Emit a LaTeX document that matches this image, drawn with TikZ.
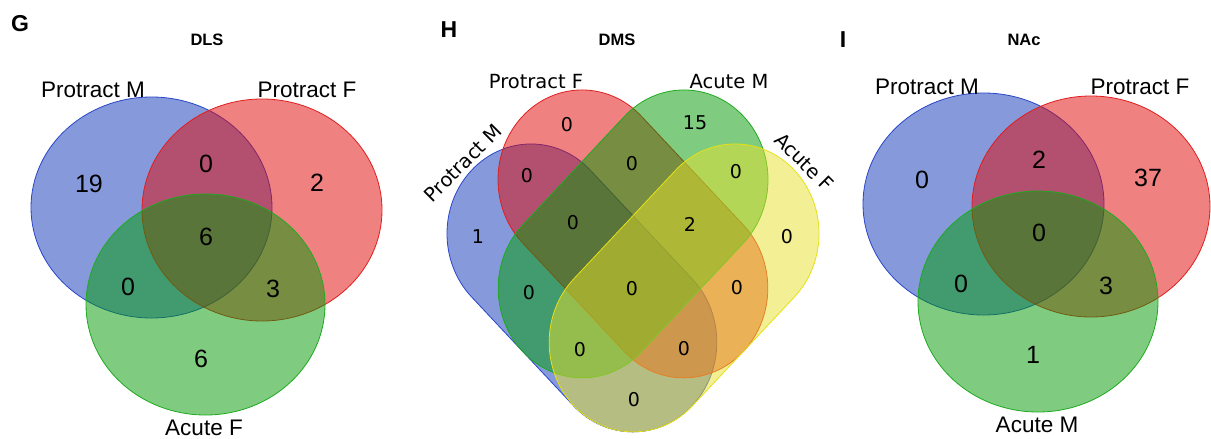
\documentclass[tikz,border=0pt]{standalone}
\usepackage{fontspec}
\setmainfont{Liberation Sans}
\newfontfamily\dejavu{DejaVu Sans}
\definecolor{vblue}{RGB}{15,55,185}
\definecolor{vred}{RGB}{225,5,5}
\definecolor{vgreen}{RGB}{0,155,5}
\definecolor{vyellow}{RGB}{231,225,45}
\definecolor{eblue}{RGB}{40,70,200}
\definecolor{ered}{RGB}{225,30,30}
\definecolor{egreen}{RGB}{30,170,30}
\definecolor{eyellow}{RGB}{230,225,20}
\begin{document}
\begin{tikzpicture}[x=1pt,y=-1pt,
  lab/.style={font=\fontsize{22.5}{27}\selectfont, inner sep=0pt},
  num/.style={font=\fontsize{25}{30}\selectfont, inner sep=0pt},
  hlab/.style={font=\dejavu\fontsize{19.5}{24}\selectfont, inner sep=0pt},
  hnum/.style={font=\dejavu\fontsize{19}{22}\selectfont, inner sep=0pt},
  ttl/.style={font=\bfseries\fontsize{16.5}{19}\selectfont, inner sep=0pt},
  pnl/.style={font=\bfseries\fontsize{23}{26}\selectfont, inner sep=0pt},
  sblue/.style={fill=vblue, fill opacity=0.5, draw=eblue, line width=0.8pt},
  sred/.style={fill=vred, fill opacity=0.5, draw=ered, line width=0.8pt},
  sgreen/.style={fill=vgreen, fill opacity=0.5, draw=egreen, line width=0.8pt},
  syellow/.style={fill=vyellow, fill opacity=0.5, draw=eyellow, line width=0.8pt},
]
\useasboundingbox (0,0) rectangle (1211,439);
\fill[white] (0,0) rectangle (1211,439);

% ---------------- Panel G ----------------
\node[pnl] (pG) at (20,24) {G};
\node[ttl] (tG) at (207,40) {DLS};
\path[sblue] (151.5,207.5) ellipse [x radius=120.5, y radius=110.5];
\path[sred] (262,210) ellipse [x radius=120, y radius=111];
\path[sgreen] (205.5,304.5) ellipse [x radius=119.5, y radius=110.5];
\node[lab] (gl1) at (93,90) {Protract M};
\node[lab] (gl2) at (307,90) {Protract F};
\node[lab] (gl3) at (204,428) {Acute F};
\node[num] (g1) at (89,184) {19};
\node[num] (g2) at (206,164) {0};
\node[num] (g3) at (317,183) {2};
\node[num] (g4) at (206,237) {6};
\node[num] (g5) at (128,287) {0};
\node[num] (g6) at (273,289) {3};
\node[num] (g7) at (201,359) {6};

% ---------------- Panel H ----------------
\node[pnl] (pH) at (449,30) {H};
\node[ttl] (tH) at (617,40) {DMS};
\begin{scope}[shift={(531,233.6)}, yscale=1.067, rotate=-45]
\path[sblue] (0,-84) -- (144,-84) arc[start angle=-90,end angle=90,radius=84] -- (0,84) arc[start angle=90,end angle=270,radius=84] -- cycle;
\end{scope}
\begin{scope}[shift={(582,179.6)}, yscale=1.067, rotate=-45]
\path[sred] (0,-84) -- (144,-84) arc[start angle=-90,end angle=90,radius=84] -- (0,84) arc[start angle=90,end angle=270,radius=84] -- cycle;
\end{scope}
\begin{scope}[shift={(684,179.6)}, yscale=1.067, rotate=-135]
\path[sgreen] (0,-84) -- (144,-84) arc[start angle=-90,end angle=90,radius=84] -- (0,84) arc[start angle=90,end angle=270,radius=84] -- cycle;
\end{scope}
\begin{scope}[shift={(735,233.6)}, yscale=1.067, rotate=-135]
\path[syellow] (0,-84) -- (144,-84) arc[start angle=-90,end angle=90,radius=84] -- (0,84) arc[start angle=90,end angle=270,radius=84] -- cycle;
\end{scope}
\node[hlab] (hl1) at (536,82) {Protract F};
\node[hlab] (hl2) at (729,82) {Acute M};
\node[hlab, rotate=45] (hl3) at (463,163) {Protract M};
\node[hlab, rotate=-45] (hl4) at (804,162) {Acute F};
\node[hnum] (h1) at (567,125) {0};
\node[hnum] (h2) at (695,123) {15};
\node[hnum] (h3) at (478,237) {1};
\node[hnum] (h4) at (787,237) {0};
\node[hnum] (h5) at (527,176) {0};
\node[hnum] (h6) at (632,164) {0};
\node[hnum] (h7) at (736,172) {0};
\node[hnum] (h8) at (573,223) {0};
\node[hnum] (h9) at (690,224) {2};
\node[hnum] (h10) at (529,293) {0};
\node[hnum] (h11) at (632,289) {0};
\node[hnum] (h12) at (737,288) {0};
\node[hnum] (h13) at (580,350) {0};
\node[hnum] (h14) at (684,349) {0};
\node[hnum] (h15) at (634,400) {0};

% ---------------- Panel I ----------------
\node[pnl] (pI) at (843,40) {I};
\node[ttl] (tI) at (1024,40) {NAc};
\path[sblue] (983.5,204) ellipse [x radius=120.5, y radius=111];
\path[sred] (1091,206.5) ellipse [x radius=119, y radius=110.5];
\path[sgreen] (1038,301.5) ellipse [x radius=120, y radius=110.5];
\node[lab] (il1) at (927,87) {Protract M};
\node[lab] (il2) at (1140,87) {Protract F};
\node[lab] (il3) at (1037,425) {Acute M};
\node[num] (i1) at (922,180) {0};
\node[num] (i2) at (1039,160) {2};
\node[num] (i3) at (1148,178) {37};
\node[num] (i4) at (1039,233) {0};
\node[num] (i5) at (961,284) {0};
\node[num] (i6) at (1106,286) {3};
\node[num] (i7) at (1033,355) {1};
\end{tikzpicture}
\end{document}
